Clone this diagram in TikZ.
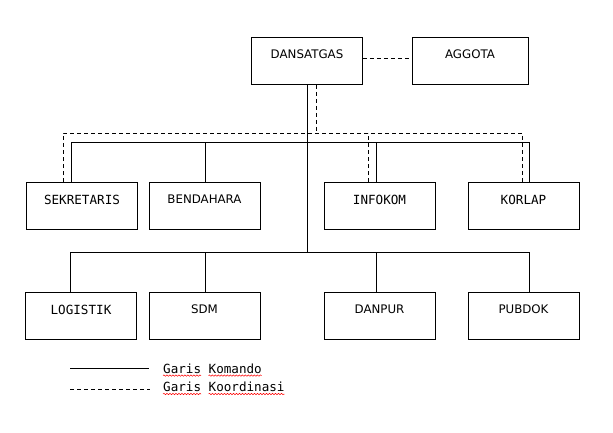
\documentclass[tikz,border=0pt]{standalone}
\usepackage{fontspec}
\usetikzlibrary{calc,decorations.pathmorphing}
\newfontfamily\monof{DejaVu Sans Mono}
\newfontfamily\propf{DejaVu Sans}
\begin{document}
\begin{tikzpicture}[x=1pt,y=-1pt,
  box/.style={draw, line width=0.9pt, minimum width=111pt, inner xsep=0pt, inner ysep=0pt, anchor=north},
  monobox/.style={box, font=\monof\fontsize{12.6}{14}\selectfont, text height=22pt, text depth=25pt},
  propbox/.style={box, font=\propf\fontsize{11.8}{13}\selectfont, text height=20.7pt, text depth=26.3pt},
  legtext/.style={font=\monof\fontsize{12.6}{14}\selectfont, anchor=base west, inner sep=0pt},
  cmd/.style={draw, line width=0.9pt},
  coord/.style={draw, line width=0.9pt, dash pattern=on 4pt off 3pt},
  squig/.style={draw=red, line width=0.5pt, decorate, decoration={snake, segment length=3pt, amplitude=0.7pt}}
]
\useasboundingbox (0,0) rectangle (613,433);
% boxes
\node[propbox] (dan) at (307,37) {DANSATGAS};
\node[propbox, minimum width=116pt] (agg) at (470,37) {AGGOTA};
\node[monobox] (sek) at (82,182) {SEKRETARIS};
\node[propbox] (ben) at (204.5,182) {BENDAHARA};
\node[monobox] (info) at (379.5,182) {INFOKOM};
\node[monobox] (kor) at (523.5,182) {KORLAP};
\node[monobox] (log) at (81,292) {LOGISTIK};
\node[propbox] (sdm) at (204.5,292) {SDM};
\node[propbox] (danp) at (379.5,292) {DANPUR};
\node[propbox] (pub) at (523.5,292) {PUBDOK};
% bus coordinates
\coordinate (busA) at (307,142);
\coordinate (busB) at (307,252);
\coordinate (dbus) at (316,133);
% attachment points
\path (sek.north) ++(-11,0) coordinate (sekA);
\path (ben.north) ++(0.5,0) coordinate (benA);
\path (info.north) ++(-3.5,0) coordinate (infA);
\path (kor.north) ++(5.5,0) coordinate (korA);
\path (log.north) ++(-11,0) coordinate (logA);
\path (sdm.north) ++(0.5,0) coordinate (sdmA);
\path (danp.north) ++(-3.5,0) coordinate (danpA);
\path (pub.north) ++(5.5,0) coordinate (pubA);
\path (sek.north) ++(-19,0) coordinate (sekD);
\path (info.north) ++(-11.5,0) coordinate (infD);
\path (kor.north) ++(-1.5,0) coordinate (korD);
\path (dan.south) ++(9,0) coordinate (danD);
\path (dan.east) ++(0,-2.5) coordinate (danE);
% command lines
\draw[cmd] (dan.south) -- (dan.south |- busB);
\draw[cmd] (sekA) |- (korA |- busA) -- (korA);
\draw[cmd] (benA) -- (benA |- busA);
\draw[cmd] (infA) -- (infA |- busA);
\draw[cmd] (logA) |- (pubA |- busB) -- (pubA);
\draw[cmd] (sdmA) -- (sdmA |- busB);
\draw[cmd] (danpA) -- (danpA |- busB);
% coordination lines
\draw[coord] (danE) -- (agg.west |- danE);
\draw[coord] (danD) -- (danD |- dbus);
\draw[coord] (sekD) |- (korD |- dbus) -- (korD);
\draw[coord] (infD) -- (infD |- dbus);
% legend
\coordinate (l1a) at (70,368);
\coordinate (l1b) at (149,368);
\coordinate (l2a) at (70,389.3);
\coordinate (l2b) at (150,389.3);
\draw[cmd] (l1a) -- (l1b);
\draw[coord] (l2a) -- (l2b);
\node[legtext] (t1) at (163,373.3) {Garis Komando};
\node[legtext] (t2) at (163,391.7) {Garis Koordinasi};
\draw[squig] ($(t1.base west)+(0,2.3)$) -- ++(38,0);
\draw[squig] ($(t1.base west)+(45.5,2.3)$) -- ++(53,0);
\draw[squig] ($(t2.base west)+(0,2.3)$) -- ++(38,0);
\draw[squig] ($(t2.base west)+(45.5,2.3)$) -- ++(76,0);
\end{tikzpicture}
\end{document}
